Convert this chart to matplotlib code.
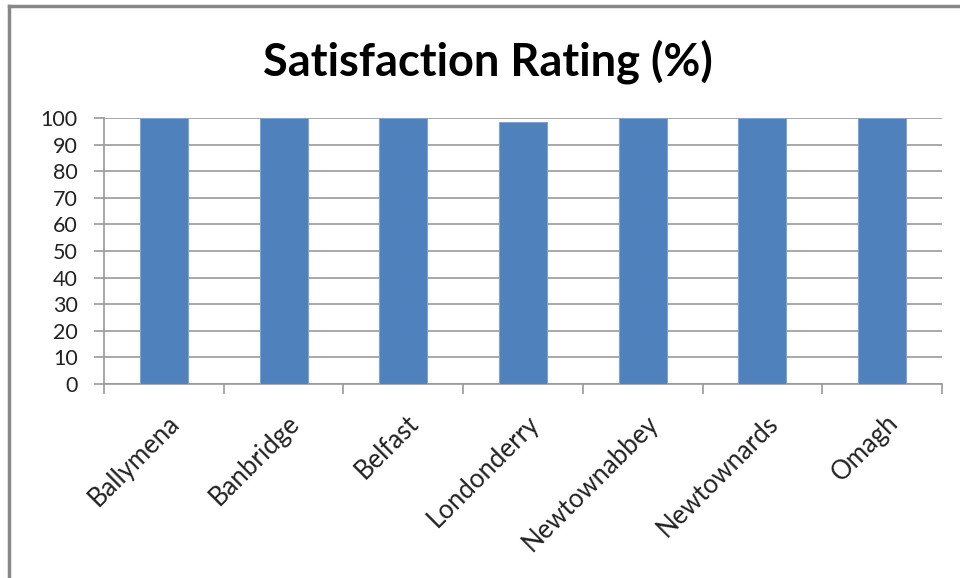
import matplotlib
matplotlib.use("Agg")
import matplotlib.pyplot as plt
from matplotlib.lines import Line2D
import matplotlib.transforms as mtransforms
import numpy as np

categories = ["Ballymena", "Banbridge", "Belfast", "Londonderry", "Newtownabbey", "Newtownards", "Omagh"]
values = [100, 100, 100, 98.6, 100, 100, 100]
yticks = [0, 10, 20, 30, 40, 50, 60, 70, 80, 90, 100]
title = "Satisfaction Rating (%)"

W, H = 960, 578
fig = plt.figure(figsize=(W / 100, H / 100), dpi=100)
fig.patch.set_facecolor("white")

left, right, top, bottom = 104, 942, 118, 384
ax = fig.add_axes([left / W, 1 - bottom / H, (right - left) / W, (bottom - top) / H])

x = np.arange(len(categories))
ax.bar(x, values, width=0.4, color="#4F81BD", edgecolor="#7FA3D3", linewidth=0.8, zorder=3)
ax.set_xlim(-0.5, len(categories) - 0.5)
ax.set_ylim(0, 100)
ax.set_yticks(yticks)
ax.set_yticklabels([str(v) for v in yticks], fontsize=15.5, family="Lato", color="#222222")
ax.yaxis.grid(True, color="#999999", linewidth=1.2, zorder=0)

ax.set_xticks(x)
ax.set_xticklabels(categories, rotation=45, ha="right", va="top", rotation_mode="anchor",
                   fontsize=18.5, family="Lato", color="#222222")
ax.tick_params(axis="x", which="major", length=0, pad=19)
ax.set_xticks(np.arange(-0.5, len(categories)), minor=True)
ax.tick_params(axis="x", which="minor", length=7, color="#999999", width=1.2)
ax.tick_params(axis="y", length=7, color="#999999", width=1.2, pad=12)

for s in ["top", "right"]:
    ax.spines[s].set_visible(False)
for s in ["left", "bottom"]:
    ax.spines[s].set_color("#999999")
    ax.spines[s].set_linewidth(1.2)

offset = mtransforms.ScaledTranslation(3 / 100, 0, fig.dpi_scale_trans)
for lbl in ax.get_xticklabels():
    lbl.set_transform(lbl.get_transform() + offset)

fig.text(488 / W, 1 - 62 / H, title, ha="center", va="center", fontsize=32.5,
         fontweight="bold", family="Lato", color="black")

# outer chart frame (partially visible)
fig.add_artist(Line2D([9 / W, 9 / W], [0, 1 - 6 / H], color="#888888", linewidth=2.5,
                      transform=fig.transFigure))
fig.add_artist(Line2D([9 / W, 1], [1 - 6 / H, 1 - 6 / H], color="#888888", linewidth=2.5,
                      transform=fig.transFigure))

fig.savefig("out.png", dpi=100, facecolor="white")
